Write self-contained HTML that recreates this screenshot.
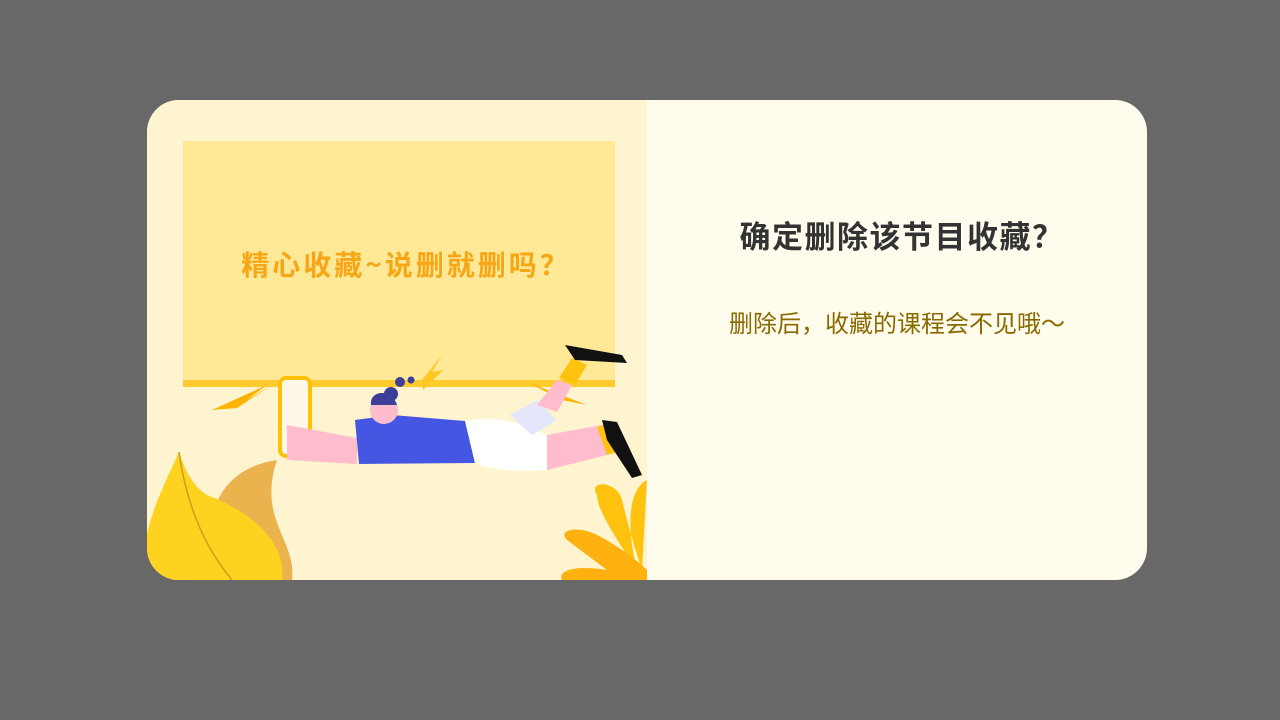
<!DOCTYPE html>
<html><head><meta charset="utf-8">
<style>
html,body{margin:0;padding:0;width:1280px;height:720px;background:#686868;overflow:hidden;font-family:"Liberation Sans","Noto Sans CJK SC",sans-serif}
.card{position:absolute;left:147px;top:100px;width:1000px;height:480px;border-radius:32px;overflow:hidden;background:#fffcee}
.left{position:absolute;left:0;top:0;width:500px;height:480px;background:#fef5d0}
.title{position:absolute;left:505px;width:500px;top:112px;text-align:center;font-size:31px;font-weight:bold;color:#333;letter-spacing:1.5px;font-family:"Noto Sans CJK SC",sans-serif}
.sub{position:absolute;left:500px;width:500px;top:204px;text-align:center;font-size:24px;color:#8a6a00;font-family:"Noto Sans CJK SC",sans-serif}
</style></head><body>
<div class="card">
 <div class="left">
  <svg width="500" height="480" viewBox="0 0 500 480">
   <rect x="36" y="41" width="432" height="245" fill="#ffe896"/>
   <rect x="36" y="280" width="432" height="7" fill="#ffcb2e"/>
   <text x="259" y="175" text-anchor="middle" font-size="28" font-weight="bold" fill="#f7a716" font-family="Noto Sans CJK SC,sans-serif" letter-spacing="3">精心收藏~说删就删吗？</text>
   <path d="M65 310 L120 285 L100 300 L125 285 L90 308 Z" fill="#ffb300"/>
   <path d="M275 280 L295 255 L285 272 L296 270 L276 290 Z" fill="#ffc820"/>
   <path d="M380 282 L440 305 L415 300 Z" fill="#ffb300"/>
   <path d="M130 360 C60 370 50 440 80 480 L145 480 C150 440 110 420 130 360Z" fill="#ebb34e"/>
   <path d="M32 352 C10 400 -10 440 0 480 L135 480 C140 440 100 410 60 395 C45 385 38 370 32 352Z" fill="#ffd21f"/>
   <path d="M32 352 C40 410 60 450 85 480" stroke="#c9a01a" stroke-width="1.5" fill="none"/>
   <path d="M500 380 C480 390 480 430 490 470 C470 440 450 410 450 395 C440 380 470 380 475 400 C480 420 485 440 495 470 Z" fill="#ffc20e"/>
   <path d="M420 440 C410 430 430 425 450 435 C470 445 490 460 500 470 L500 480 L415 480 C410 470 430 465 460 470 Z" fill="#ffb20f"/>
   <rect x="133" y="278" width="30" height="78" rx="6" fill="#fff8e6" stroke="#ffc107" stroke-width="4"/>
   <path d="M140 325 L210 338 L210 364 L140 360 Z" fill="#ffbccc"/>
   <path d="M208 320 L245 315 L318 321 L328 363 L212 364 Z" fill="#4456e2"/>
   <path d="M318 321 C350 315 370 322 400 335 L400 370 C370 372 340 370 328 363 Z" fill="#fff"/>
   <path d="M363 315 L390 300 L410 320 L385 335 Z" fill="#e4e6fb"/>
   <path d="M400 335 L455 325 L460 355 L400 370 Z" fill="#ffbccc"/>
   <path d="M450 327 L468 322 L478 350 L460 355 Z" fill="#ffc20e"/>
   <path d="M455 320 L470 322 L495 375 L485 378 L460 340 Z" fill="#111"/>
   <path d="M390 305 L410 280 L425 285 L410 312 Z" fill="#ffbccc"/>
   <path d="M412 278 L425 258 L440 265 L428 285 Z" fill="#ffc20e"/>
   <path d="M418 245 L475 255 L480 263 L428 260 Z" fill="#111"/>
   <circle cx="237" cy="310" r="14" fill="#ffbccc"/>
   <path d="M224 305 C222 290 245 288 250 305 Z" fill="#3b3f99"/>
   <circle cx="244" cy="294" r="7" fill="#3b3f99"/><circle cx="253" cy="282" r="5" fill="#3b3f99"/><circle cx="264" cy="280" r="3.5" fill="#3b3f99"/>
  </svg>
 </div>
 <div class="title">确定删除该节目收藏？</div>
 <div class="sub">删除后，收藏的课程会不见哦～</div>
</div>
</body></html>
